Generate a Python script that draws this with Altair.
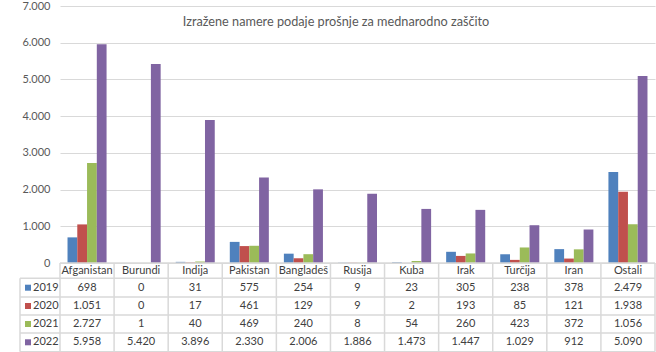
import altair as alt
import pandas as pd

countries = ["Afganistan", "Burundi", "Indija", "Pakistan", "Bangladeš", "Rusija",
             "Kuba", "Irak", "Turčija", "Iran", "Ostali"]
years = ["2019", "2020", "2021", "2022"]
v2019 = [698, 0, 31, 575, 254, 9, 23, 305, 238, 378, 2479]
v2020 = [1051, 0, 17, 461, 129, 9, 2, 193, 85, 121, 1938]
v2021 = [2727, 1, 40, 469, 240, 8, 54, 260, 423, 372, 1056]
v2022 = [5958, 5420, 3896, 2330, 2006, 1886, 1473, 1447, 1029, 912, 5090]
colors = ["#4f81bd", "#c0504d", "#9bbb59", "#8064a2"]
title_text = "Izražene namere podaje prošnje za mednarodno zaščito"
y_ticks = [0, 1000, 2000, 3000, 4000, 5000, 6000, 7000]

rows = []
for yr, vals in zip(years, [v2019, v2020, v2021, v2022]):
    for c, v in zip(countries, vals):
        rows.append({"Country": c, "Year": yr, "Value": v})
df = pd.DataFrame(rows)

FONT = "Lato"
W, H = 595, 257
GRID = "#d9d9d9"
TXT = "#404040"

xscale = alt.Scale(domain=countries, paddingInner=0, paddingOuter=0)
x = alt.X("Country:N", sort=countries, scale=xscale, axis=None)
color = alt.Color("Year:N", scale=alt.Scale(domain=years, range=colors), legend=None)

base = alt.Chart(df)

bars = base.mark_bar().encode(
    x=x,
    xOffset=alt.XOffset("Year:N", sort=years, scale=alt.Scale(paddingInner=0, paddingOuter=0.77)),
    y=alt.Y("Value:Q", scale=alt.Scale(domain=[0, 7000]),
            axis=alt.Axis(values=y_ticks, format=",d", title=None, domain=False, ticks=False,
                          labelPadding=10, labelFont=FONT, labelFontSize=11,
                          labelColor="#595959", gridColor=GRID, gridWidth=1)),
    color=color,
)

one = alt.Data(values=[{"k": 1}])

title = alt.Chart(one).mark_text(font=FONT, fontSize=12.7, color="#595959").encode(
    x=alt.value(276), y=alt.value(16), text=alt.value(title_text))

header = base.transform_filter("datum.Year == '2019'").mark_text(
    font=FONT, fontSize=11, color=TXT).encode(x=x, y=alt.value(264.7), text="Country:N")

row_y = [281.7, 300, 318, 336.3]
layers = [bars, title, header]
for yr, ry in zip(years, row_y):
    sub = base.transform_filter(f"datum.Year == '{yr}'")
    layers.append(sub.mark_text(font=FONT, fontSize=11, color=TXT).encode(
        x=x, y=alt.value(ry), text=alt.Text("Value:Q", format=",d")))
    first = sub.transform_filter("datum.Country == 'Afganistan'")
    layers.append(first.mark_text(font=FONT, fontSize=11, color=TXT, align="left").encode(
        x=alt.value(-27), y=alt.value(ry), text="Year:N"))
    layers.append(first.mark_square(size=36, opacity=1).encode(
        x=alt.value(-32), y=alt.value(ry), color=color))

# table grid
vlines = base.transform_filter("datum.Year == '2019'").mark_rule(color=GRID, strokeWidth=1.5).encode(
    x=alt.X("Country:N", sort=countries, scale=xscale, axis=None, bandPosition=0),
    y=alt.value(257), y2=alt.value(345.7))
layers.append(vlines)
layers.append(alt.Chart(one).mark_rule(color=GRID, strokeWidth=1.5).encode(
    x=alt.value(W), y=alt.value(257), y2=alt.value(345.7)))
layers.append(alt.Chart(one).mark_rule(color=GRID, strokeWidth=1.5).encode(
    x=alt.value(-40), y=alt.value(272.3), y2=alt.value(345.7)))
for x0, hy in [(0.01, 257), (-40, 272.3), (-40, 291), (-40, 309), (-40, 327), (-40, 345.7)]:
    layers.append(alt.Chart(one).mark_rule(color=GRID, strokeWidth=1.5).encode(
        x=alt.value(x0), x2=alt.value(W), y=alt.value(hy), y2=alt.value(hy)))

chart = alt.layer(*layers).properties(
    width=W, height=H,
    padding={"left": 19, "top": 0, "right": 0, "bottom": 0},
).configure(
    locale=alt.Locale(number=alt.NumberLocale(decimal=",", thousands=".", grouping=[3],
                                                currency=["", " €"]))
).configure_view(stroke=None)

chart.save("out.html", embed_options={"renderer": "svg", "actions": False})
